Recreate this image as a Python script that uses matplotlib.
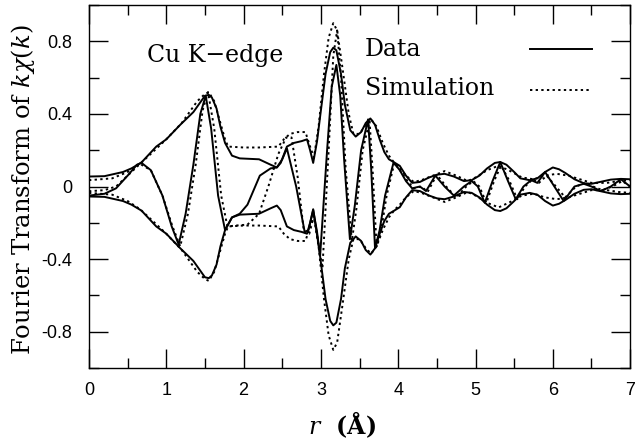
import matplotlib
matplotlib.use("Agg")
import matplotlib.pyplot as plt
from matplotlib.ticker import MultipleLocator

# Data (solid): |FT| envelope and real part
r_mag_data = [0.00, 0.20, 0.44, 0.55, 0.68, 0.87, 1.00, 1.18, 1.35, 1.45, 1.50, 1.55, 1.59, 1.65,
              1.70, 1.76, 1.85, 1.95, 2.20, 2.35, 2.43, 2.48, 2.56, 2.65, 2.75, 2.82, 2.86, 2.90,
              2.95, 3.00, 3.06, 3.12, 3.16, 3.20, 3.26, 3.31, 3.38, 3.45, 3.52, 3.58, 3.64, 3.70,
              3.76, 3.82, 3.88, 3.94, 4.02, 4.10, 4.18, 4.28, 4.40, 4.50, 4.60, 4.72, 4.85, 4.95,
              5.05, 5.15, 5.25, 5.32, 5.40, 5.50, 5.58, 5.70, 5.80, 5.90, 6.00, 6.08, 6.16, 6.28,
              6.40, 6.50, 6.62, 6.75, 6.88, 7.00]
mag_data = [0.055, 0.057, 0.08, 0.10, 0.133, 0.22, 0.26, 0.34, 0.41, 0.47, 0.50, 0.505, 0.49, 0.43,
            0.33, 0.24, 0.17, 0.155, 0.15, 0.12, 0.105, 0.13, 0.22, 0.24, 0.25, 0.26, 0.20, 0.13,
            0.25, 0.42, 0.62, 0.74, 0.765, 0.75, 0.62, 0.45, 0.31, 0.275, 0.30, 0.35, 0.375, 0.34,
            0.26, 0.19, 0.15, 0.135, 0.114, 0.06, 0.02, 0.025, 0.05, 0.065, 0.07, 0.055, 0.03, 0.035,
            0.06, 0.10, 0.13, 0.135, 0.12, 0.08, 0.045, 0.035, 0.045, 0.08, 0.105, 0.095, 0.075, 0.04,
            0.018, 0.015, 0.026, 0.038, 0.042, 0.04]

r_re_data = [0.00, 0.20, 0.35, 0.50, 0.62, 0.68, 0.80, 0.95, 1.07, 1.16, 1.25, 1.35, 1.44, 1.51,
             1.58, 1.67, 1.76, 1.85, 1.95, 2.05, 2.21, 2.35, 2.43, 2.50, 2.56, 2.68, 2.79, 2.84,
             2.90, 2.99, 3.08, 3.14, 3.20, 3.25, 3.30, 3.375, 3.44, 3.52, 3.61, 3.65, 3.70, 3.76,
             3.83, 3.94, 4.02, 4.10, 4.18, 4.28, 4.36, 4.48, 4.60, 4.72, 4.85, 4.95, 5.03, 5.12,
             5.22, 5.32, 5.42, 5.52, 5.62, 5.72, 5.80, 5.90, 6.02, 6.14, 6.28, 6.40, 6.50, 6.62,
             6.75, 6.88, 7.00]
re_data = [-0.05, -0.04, -0.01, 0.06, 0.12, 0.13, 0.09, -0.05, -0.22, -0.32, -0.15, 0.12, 0.40, 0.50,
           0.32, -0.05, -0.24, -0.17, -0.15, -0.10, 0.06, 0.10, 0.105, 0.15, 0.21, 0.00, -0.25, -0.24,
           -0.125, -0.38, 0.20, 0.55, 0.67, 0.50, 0.15, -0.29, -0.10, 0.20, 0.37, 0.10, -0.34, -0.24,
           -0.05, 0.133, 0.09, 0.03, -0.01, 0.00, -0.025, 0.06, 0.00, -0.05, 0.00, 0.03, 0.00, -0.09,
           0.03, 0.135, 0.03, -0.07, 0.00, 0.035, 0.02, 0.08, 0.00, -0.08, 0.00, 0.015, 0.00, -0.025,
           0.00, 0.04, 0.00]

# Simulation (dotted)
r_mag_sim = [0.00, 0.30, 0.50, 0.66, 0.80, 1.00, 1.20, 1.40, 1.50, 1.55, 1.62, 1.70, 1.76, 1.80,
             2.00, 2.20, 2.45, 2.52, 2.60, 2.70, 2.80, 2.86, 2.91, 2.97, 3.04, 3.10, 3.16, 3.21,
             3.28, 3.36, 3.42, 3.50, 3.58, 3.65, 3.72, 3.80, 3.88, 3.95, 4.02, 4.10, 4.20, 4.30,
             4.45, 4.60, 4.75, 4.90, 5.00, 5.15, 5.30, 5.45, 5.60, 5.75, 5.90, 6.05, 6.20, 6.35,
             6.50, 6.70, 6.85, 7.00]
mag_sim = [0.035, 0.045, 0.08, 0.125, 0.18, 0.26, 0.35, 0.47, 0.51, 0.52, 0.47, 0.35, 0.26, 0.22,
           0.215, 0.215, 0.22, 0.26, 0.29, 0.30, 0.30, 0.22, 0.16, 0.33, 0.62, 0.82, 0.90, 0.86,
           0.65, 0.40, 0.29, 0.29, 0.34, 0.37, 0.33, 0.24, 0.17, 0.13, 0.10, 0.06, 0.025, 0.035,
           0.06, 0.085, 0.06, 0.03, 0.05, 0.09, 0.115, 0.085, 0.05, 0.04, 0.06, 0.07, 0.06, 0.04,
           0.02, 0.02, 0.03, 0.035]

r_re_sim = [0.00, 0.20, 0.35, 0.50, 0.66, 0.80, 0.95, 1.08, 1.18, 1.28, 1.38, 1.47, 1.54, 1.62,
            1.71, 1.79, 1.90, 2.05, 2.20, 2.32, 2.45, 2.55, 2.62, 2.70, 2.78, 2.85, 2.91, 2.97,
            3.02, 3.10, 3.16, 3.21, 3.26, 3.32, 3.40, 3.46, 3.54, 3.63, 3.67, 3.72, 3.78, 3.85,
            3.95, 4.04, 4.12, 4.20, 4.30, 4.38, 4.50, 4.62, 4.75, 4.88, 4.97, 5.05, 5.14, 5.24,
            5.33, 5.44, 5.54, 5.64, 5.74, 5.82, 5.92, 6.04, 6.16, 6.30, 6.42, 6.52, 6.64, 6.77,
            6.90, 7.00]
re_sim = [-0.026, -0.02, 0.00, 0.06, 0.125, 0.09, -0.05, -0.22, -0.33, -0.15, 0.12, 0.42, 0.52, 0.32,
          -0.05, -0.22, -0.215, -0.21, -0.15, 0.00, 0.18, 0.27, 0.27, 0.05, -0.25, -0.26, -0.16, -0.33,
          -0.45, 0.20, 0.72, 0.86, 0.60, 0.10, -0.30, -0.12, 0.20, 0.36, 0.08, -0.33, -0.24, -0.05,
          0.13, 0.08, 0.03, -0.01, 0.00, -0.03, 0.065, 0.00, -0.06, 0.00, 0.03, 0.00, -0.09, 0.03,
          0.115, 0.03, -0.07, 0.00, 0.04, 0.02, 0.06, 0.00, -0.06, 0.00, 0.02, 0.00, -0.02, 0.00,
          0.03, 0.00]

serif = "DejaVu Serif"
plt.rcParams["mathtext.fontset"] = "dejavuserif"
dots = (0, (1.2, 1.7))

fig = plt.figure(figsize=(6.43, 4.40), dpi=100)
ax = fig.add_axes([0.1384, 0.1636, 0.8416, 0.825])

# measured
h_data, = ax.plot(r_mag_data, mag_data, color="black", lw=1.4)
ax.plot(r_mag_data, [-m for m in mag_data], color="black", lw=1.4)
ax.plot(r_re_data, re_data, color="black", lw=1.4)
# simulation
h_sim, = ax.plot(r_mag_sim, mag_sim, color="black", lw=1.4, linestyle=dots)
ax.plot(r_mag_sim, [-m for m in mag_sim], color="black", lw=1.4, linestyle=dots)
ax.plot(r_re_sim, re_sim, color="black", lw=1.4, linestyle=dots)

ax.set_xlim(0, 7)
ax.set_ylim(-1.0, 1.0)
ax.xaxis.set_major_locator(MultipleLocator(1))
ax.xaxis.set_minor_locator(MultipleLocator(0.5))
ax.yaxis.set_minor_locator(MultipleLocator(0.2))
ax.set_yticks([-0.8, -0.4, 0, 0.4, 0.8])
ax.set_yticklabels(["-0.8", "-0.4", "0", "0.4", "0.8"])
ax.tick_params(which="both", direction="in", top=True, right=True, width=1.0, labelsize=13)
ax.tick_params(axis="y", pad=12)
ax.tick_params(axis="x", pad=10)
ax.tick_params(which="major", length=14)
ax.tick_params(which="minor", length=7)
for lab in ax.get_xticklabels() + ax.get_yticklabels():
    lab.set_fontfamily("Liberation Sans")
for s in ax.spines.values():
    s.set_linewidth(1.0)

ax.set_xlabel(r"$\mathbf{\mathit{r}}$  (Å)", fontfamily=serif, fontsize=17, fontweight="bold")
ax.xaxis.set_label_coords(0.468, -0.115)
ax.set_ylabel(r"Fourier Transform of $k\chi(k)$", fontfamily=serif, fontsize=17.5)
ax.yaxis.set_label_coords(-0.096, 0.49)

ax.text(1.63, 0.72, "Cu K\u2212edge", fontfamily=serif, fontsize=17, ha="center", va="center")

# legend: labels on the left, sample lines on the right
ax.text(0.51, 0.877, "Data", transform=ax.transAxes, fontfamily=serif, fontsize=17, va="center")
ax.text(0.51, 0.771, "Simulation", transform=ax.transAxes, fontfamily=serif, fontsize=17, va="center")
ax.legend([h_data, h_sim], ["", ""], loc="upper left", bbox_to_anchor=(0.776, 0.967), frameon=False,
          handlelength=2.6, handletextpad=0, labelspacing=0.70, prop={"size": 17})

fig.savefig("out.png", dpi=100)
